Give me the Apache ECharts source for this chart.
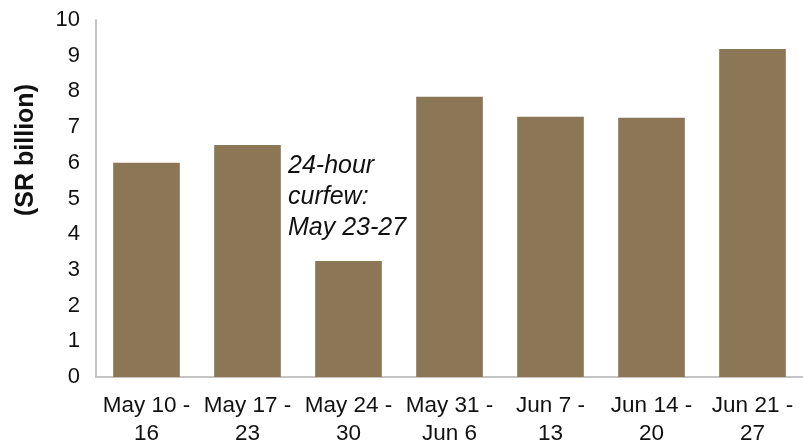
<!DOCTYPE html>
<html>
<head>
<meta charset="utf-8">
<script src="https://cdn.jsdelivr.net/npm/echarts@6/dist/echarts.min.js"></script>
<style>
  html, body { margin: 0; padding: 0; background: #fff; }
  #chart { width: 803px; height: 444px; }
</style>
</head>
<body>
<div id="chart"></div>
<script>
// weekly values, SR billion
var weeks = ["May 10 -\n16", "May 17 -\n23", "May 24 -\n30", "May 31 -\nJun 6", "Jun 7 -\n13", "Jun 14 -\n20", "Jun 21 -\n27"];
var spending = [6.0, 6.5, 3.25, 7.85, 7.29, 7.26, 9.19];
var unitName = "(SR billion)";
var note = "24-hour\ncurfew:\nMay 23-27";

var font = "Liberation Sans, Arial, sans-serif";
var myChart = echarts.init(document.getElementById("chart"));
myChart.setOption({
  animation: false,
  grid: { left: 96, right: 0, top: 20, bottom: 67, outerBoundsMode: "none" },
  xAxis: {
    type: "category",
    data: weeks,
    axisLine: { lineStyle: { color: "#c4c4c4", width: 2 } },
    axisTick: { show: false },
    axisLabel: {
      interval: 0,
      margin: 15,
      color: "#111",
      fontSize: 22.5,
      lineHeight: 28,
      fontFamily: font
    }
  },
  yAxis: {
    type: "value",
    min: 0,
    max: 10,
    interval: 1,
    axisLine: { show: true, lineStyle: { color: "#c4c4c4", width: 2 } },
    axisTick: { show: false },
    splitLine: { show: false },
    axisLabel: {
      margin: 16,
      color: "#111",
      fontSize: 22,
      fontFamily: font
    }
  },
  graphic: [
    {
      // axis title sits above the axis middle, as in the original
      type: "text",
      x: 26,
      y: 150,
      rotation: Math.PI / 2,
      style: {
        text: unitName,
        fontSize: 25,
        fontWeight: "bold",
        fill: "#111",
        align: "center",
        verticalAlign: "middle",
        fontFamily: font
      }
    },
    {
      type: "text",
      left: 288,
      top: 151,
      style: {
        text: note,
        fontSize: 25,
        fontStyle: "italic",
        lineHeight: 31,
        fill: "#111",
        fontFamily: font
      }
    }
  ],
  series: [
    {
      type: "bar",
      data: spending,
      barWidth: "66%",
      itemStyle: { color: "#8b7755" }
    }
  ]
});
</script>
</body>
</html>
